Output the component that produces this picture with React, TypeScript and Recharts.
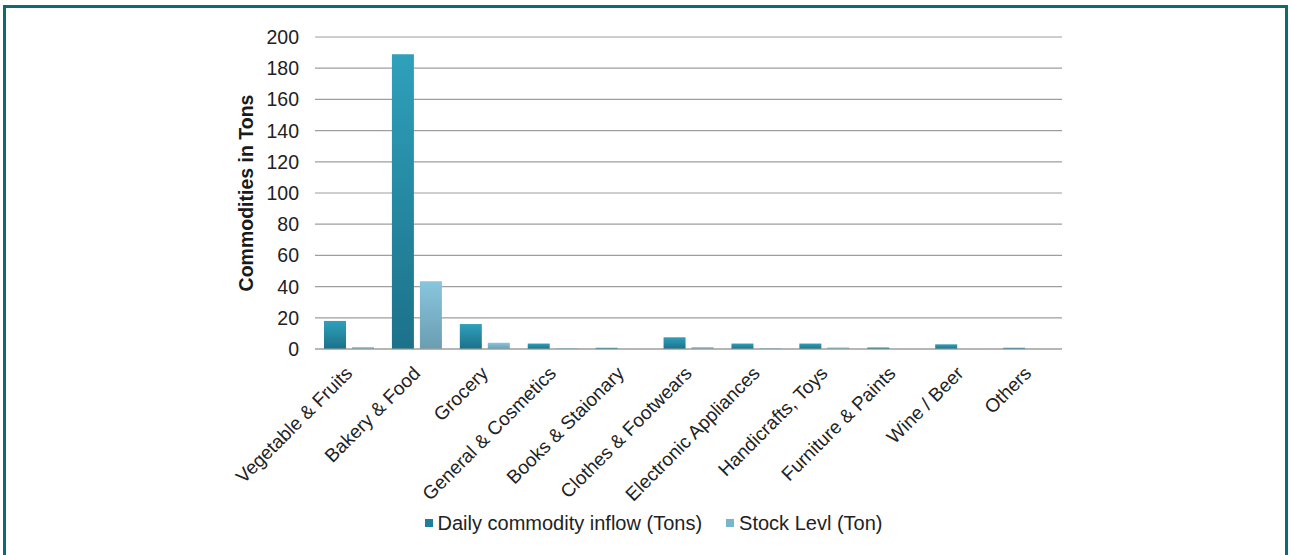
import { BarChart, Bar, XAxis, YAxis, CartesianGrid, Legend } from 'recharts';

const categories = [
  'Vegetable & Fruits', 'Bakery & Food', 'Grocery', 'General & Cosmetics', 'Books & Staionary',
  'Clothes & Footwears', 'Electronic Appliances', 'Handicrafts, Toys', 'Furniture & Paints',
  'Wine / Beer', 'Others',
];
const dailyInflow = [18, 189, 16, 3.5, 0.8, 7.5, 3.5, 3.5, 1, 3, 0.8];
const stockLevel = [1.2, 43.5, 4, 0.5, 0, 1.2, 0.5, 1, 0, 0, 0];
const yTicks = [0, 20, 40, 60, 80, 100, 120, 140, 160, 180, 200];

const data = categories.map((name, i) => ({ name, inflow: dailyInflow[i], stock: stockLevel[i] }));

const FONT = '"Liberation Sans", Arial, sans-serif';

function YTitle({ viewBox }: any) {
  const cx = 246;
  const cy = viewBox.y + viewBox.height / 2;
  return (
    <text x={cx} y={cy} transform={`rotate(-90 ${cx} ${cy})`} textAnchor="middle" dominantBaseline="central"
      fontFamily={FONT} fontSize={19.5} fontWeight="bold" fill="#1a1a1a">
      Commodities in Tons
    </text>
  );
}

function LegendBox() {
  const items = [
    { label: 'Daily commodity inflow (Tons)', color: '#1f7f9a' },
    { label: 'Stock Levl (Ton)', color: '#78b6cc' },
  ];
  return (
    <div style={{ height: 24, display: 'flex', justifyContent: 'center', alignItems: 'center', gap: 24, fontFamily: FONT, fontSize: 20, color: '#222' }}>
      {items.map(it => (
        <div key={it.label} style={{ display: 'flex', alignItems: 'center' }}>
          <span style={{ width: 8, height: 8, background: it.color, display: 'inline-block', marginRight: 5 }} />
          {it.label}
        </div>
      ))}
    </div>
  );
}

export default function App() {
  return (
    <div style={{ position: 'absolute', left: 0, top: 0, width: 1291, height: 555, overflow: 'hidden', background: '#fff' }}>
      <div style={{ position: 'absolute', left: 3, top: 5, width: 1279, height: 560, border: '3px solid #0f6a70' }} />
      <div style={{ position: 'absolute', left: 0, top: 0 }}>
        <BarChart width={1291} height={555} data={data} margin={{ top: 37, right: 229, left: 245, bottom: 20 }}
          barCategoryGap={9} barGap={6}>
          <defs>
            <linearGradient id="gInflow" x1="0" y1="0" x2="0" y2="1">
              <stop offset="0%" stopColor="#2fa0bb" />
              <stop offset="100%" stopColor="#1c7189" />
            </linearGradient>
            <linearGradient id="gStock" x1="0" y1="0" x2="0" y2="1">
              <stop offset="0%" stopColor="#88c6de" />
              <stop offset="100%" stopColor="#6b9db0" />
            </linearGradient>
          </defs>
          <CartesianGrid vertical={false} stroke="#9e9e9e" strokeWidth={1.2} />
          <XAxis dataKey="name" interval={0} height={162} tickLine={false} axisLine={{ stroke: '#9e9e9e', strokeWidth: 1.2 }}
            tick={{ fontFamily: FONT, fontSize: 19, fill: '#222' }} angle={-45} textAnchor="end" dy={8} dx={-5} />
          <YAxis domain={[0, 200]} ticks={yTicks} width={70} axisLine={false} tickLine={false}
            tickSize={8} tickMargin={8} tick={{ fontFamily: FONT, fontSize: 19.5, fill: '#222' }}
            label={<YTitle />} />
          <Legend verticalAlign="bottom" content={<LegendBox />} />
          <Bar dataKey="inflow" name="Daily commodity inflow (Tons)" fill="url(#gInflow)" isAnimationActive={false} />
          <Bar dataKey="stock" name="Stock Levl (Ton)" fill="url(#gStock)" isAnimationActive={false} />
        </BarChart>
      </div>
    </div>
  );
}
